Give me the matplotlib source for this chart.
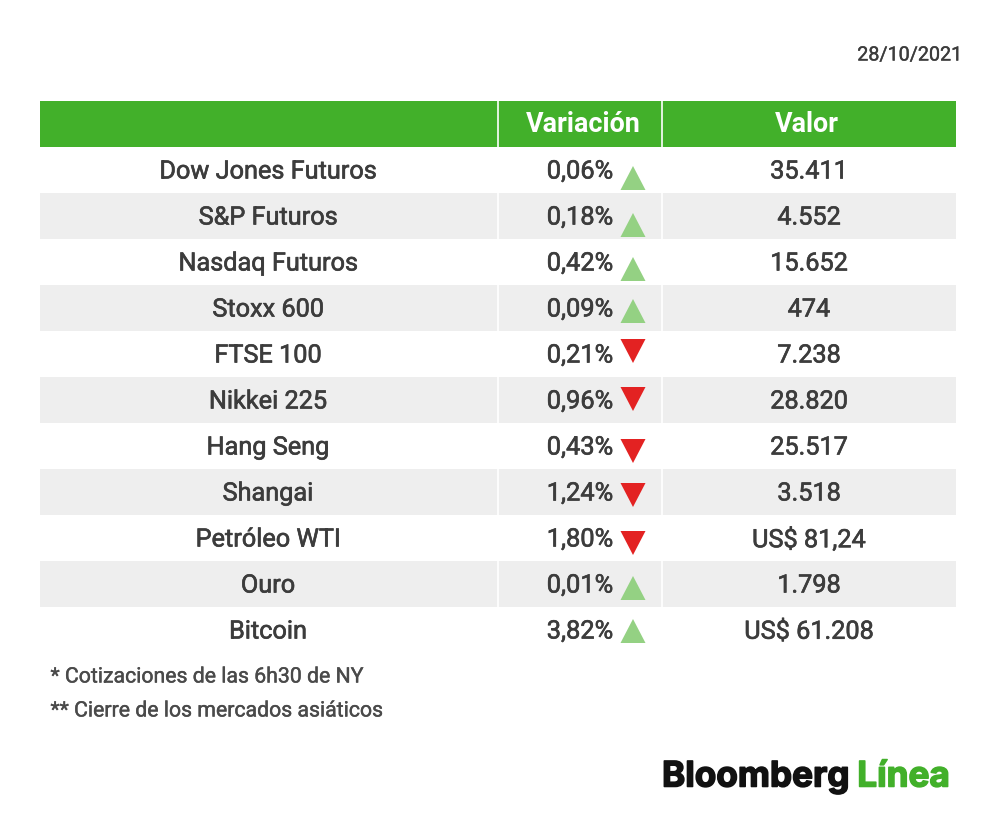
import matplotlib
matplotlib.use('Agg')
import matplotlib.pyplot as plt
from matplotlib.patches import Rectangle, Polygon
import matplotlib.patheffects as pe

names = ['Dow Jones Futuros','S&P Futuros','Nasdaq Futuros','Stoxx 600','FTSE 100','Nikkei 225','Hang Seng','Shangai','Petróleo WTI','Ouro','Bitcoin']
variation = ['0,06%','0,18%','0,42%','0,09%','0,21%','0,96%','0,43%','1,24%','1,80%','0,01%','3,82%']
direction = [1,1,1,1,-1,-1,-1,-1,-1,1,1]
arrow_y = [178,225,269,311,351,399,451,495,543,588,631]
values = ['35.411','4.552','15.652','474','7.238','28.820','25.517','3.518','US$ 81,24','1.798','US$ 61.208']
headers = ['Variación','Valor']
date = '28/10/2021'
notes = ['* Cotizaciones de las 6h30 de NY','** Cierre de los mercados asiáticos']

plt.rcParams['font.family'] = ['Roboto','DejaVu Sans']
fig = plt.figure(figsize=(10,8.21),dpi=100)
ax = fig.add_axes([0,0,1,1])
ax.set_xlim(0,1000); ax.set_ylim(821,0); ax.axis('off')
G='#42b02a'; T='#3c3c3c'
thick=[pe.withStroke(linewidth=0.45,foreground=T)]
thin=[pe.withStroke(linewidth=0.3,foreground='#4a4a4a')]
ax.add_patch(Rectangle((40,101),916,46,color=G,lw=0))
for i,n in enumerate(names):
    top=147+46*i
    if i%2==1:
        ax.add_patch(Rectangle((40,top),916,46,color='#eeeeee',lw=0))
    cy=top+24.5
    ax.text(268,cy,n,ha='center',va='center',fontsize=18.2,color=T,path_effects=thick)
    ax.text(580,cy,variation[i],ha='center',va='center',fontsize=18.3,color=T,path_effects=thick)
    ax.text(809,cy,values[i],ha='center',va='center',fontsize=18.2,color=T,path_effects=thick)
    ay=arrow_y[i]
    if direction[i]>0:
        ax.add_patch(Polygon([(620.5,ay+12),(645.5,ay+12),(633,ay-12)],color='#94d183',lw=0))
    else:
        ax.add_patch(Polygon([(620.5,ay-12),(645.5,ay-12),(633,ay+12)],color='#e32222',lw=0))
for x in (497.5,661.5):
    ax.plot([x,x],[101,607],color='white',lw=1.2)
ax.text(583.5,124.5,headers[0],ha='center',va='center',fontsize=19.4,color='white',fontweight='bold')
ax.text(806.5,124.5,headers[1],ha='center',va='center',fontsize=19.4,color='white',fontweight='bold')
ax.text(962.5,55,date,ha='right',va='center',fontsize=14.2,color=T,path_effects=thin)
ax.text(50.5,677,notes[0],ha='left',va='center',fontsize=15.3,color='#4a4a4a',path_effects=thin)
ax.text(50.5,711,notes[1],ha='left',va='center',fontsize=15.3,color='#4a4a4a',path_effects=thin)
logo=['Inter','Liberation Sans']
ax.text(662,777,'Bloomberg',ha='left',va='center',fontsize=25.3,color='#111111',fontweight='bold',family=logo,path_effects=[pe.withStroke(linewidth=1.1,foreground='#111111')])
ax.text(950,777,'Línea',ha='right',va='center',fontsize=25.3,color=G,fontweight='bold',family=logo,path_effects=[pe.withStroke(linewidth=1.1,foreground=G)])
fig.savefig('out.png',dpi=100)
